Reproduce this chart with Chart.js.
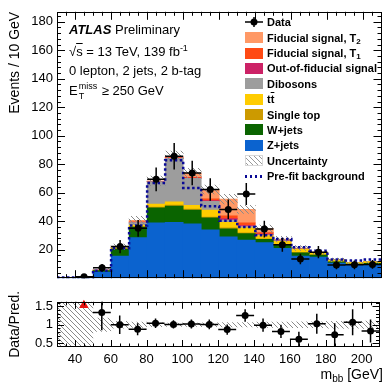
<!DOCTYPE html>
<html lang="en">
<head>
<meta charset="utf-8">
<title>m_bb, 0 lepton</title>
<script src="https://cdn.jsdelivr.net/npm/chart.js@4.4.1/dist/chart.umd.min.js"></script>
<style>
    html, body { margin: 0; padding: 0; background: #fff; }
    #lienzo {
        position: relative; width: 385px; height: 382px; overflow: hidden;
        font-family: "Liberation Sans", Arial, sans-serif; color: #000;
    }
    #graficoPrincipal { position: absolute; left: 0; top: 0; }
    #graficoRatio { position: absolute; left: 0; top: 290px; }
    .texto { position: absolute; white-space: nowrap; font-size: 13px; line-height: 14px; }
    .sobre { text-decoration: overline; }
    .fila {
        position: absolute; left: 245px; height: 12px; white-space: nowrap;
        font-size: 11px; font-weight: bold; line-height: 12px;
    }
    .muestra { position: absolute; left: 0; top: 0.5px; width: 18px; height: 11px; }
    .etiqueta { position: absolute; left: 22px; top: 0; }
    .etiqueta sub { font-size: 8px; vertical-align: -2px; line-height: 0; }
</style>
</head>
<body>
<div id="lienzo">
    <canvas id="graficoPrincipal" width="385" height="290"></canvas>
    <canvas id="graficoRatio" width="385" height="92"></canvas>

    <div class="texto" style="left:69px; top:23px;"><b><i>ATLAS</i></b> Preliminary</div>
    <div class="texto" style="left:69px; top:45px;">√<span class="sobre">s</span> = 13 TeV, 139 fb<sup style="font-size:9px; vertical-align:5px; line-height:0;">-1</sup></div>
    <div class="texto" style="left:69px; top:64px;">0 lepton, 2 jets, 2 b-tag</div>
    <div class="texto" style="left:69px; top:84px;">E<span style="display:inline-block; position:relative; width:24px; height:14px; vertical-align:top;"><span style="position:absolute; left:1px; top:-2px; font-size:9px; line-height:9px;">miss</span><span style="position:absolute; left:1px; top:8px; font-size:9px; line-height:9px;">T</span></span>≥ 250 GeV</div>

    <div id="leyenda"></div>

    <div class="texto" style="right:2px; top:366px; font-size:14px; line-height:16px;">m<sub style="font-size:10px; vertical-align:-3px; line-height:0;">bb</sub> [GeV]</div>
</div>

<script>
// ==============================================
// Distribución de m_bb: pila de fondos + señal, ratio abajo
// ==============================================

// Centros de los bins (GeV), ancho 10 GeV
const centrosBin = [35, 45, 55, 65, 75, 85, 95, 105, 115, 125, 135, 145, 155, 165, 175, 185, 195, 205];
const anchoBin = 10;

// Componentes de la pila (eventos / 10 GeV), de abajo hacia arriba
const zJets     = [0.4, 0.5, 4.3, 15.5, 28.5, 38.8, 39.2, 38.1, 34.0, 29.0, 26.8, 25.0, 21.0, 15.5, 14.8, 10.6, 9.2, 9.6];
const wJets     = [0.05, 0.1, 1.0, 5.0, 7.3, 10.6, 11.5, 9.8, 8.3, 5.7, 4.5, 2.3, 2.4, 2.3, 1.4, 0.9, 0.7, 0.9];
const singleTop = [0, 0, 0.1, 0.3, 0.3, 0.5, 0.6, 0.6, 0.6, 0.6, 0.5, 0.4, 0.3, 0.3, 0.2, 0.2, 0.1, 0.2];
const ttbar     = [0, 0, 0.2, 0.6, 1.2, 2.2, 2.3, 2.6, 5.0, 4.0, 3.5, 2.3, 2.2, 2.3, 1.6, 1.2, 1.0, 1.0];
const dibosones = [0, 0, 0.1, 0.4, 1.8, 15.5, 30.5, 19.0, 6.0, 1.5, 1.0, 0.5, 0.4, 0.3, 0.2, 0.1, 0.1, 0.1];
const fueraFid  = [0, 0, 0, 0, 0.2, 0.1, 0.2, 0.2, 0.6, 1.0, 0.7, 0.5, 0.2, 0.1, 0, 0, 0, 0];
const fidT1     = [0, 0, 0, 0, 0.3, 0.2, 0.3, 0.5, 1.2, 2.0, 1.8, 1.0, 0.3, 0.1, 0, 0, 0, 0];
const fidT2     = [0, 0, 0, 0.2, 1.0, 0.4, 0.8, 3.0, 6.5, 11.7, 9.5, 2.8, 0.6, 0.3, 0.1, 0, 0, 0];

// Fondo antes del ajuste (línea punteada)
const preAjuste = [0.5, 0.5, 5.3, 21.0, 37.0, 66.8, 82.8, 63.4, 50.5, 40.3, 36.0, 30.2, 27.5, 21.8, 19.3, 13.2, 12.5, 13.2];

// Incertidumbre relativa de la predicción
const incertRel = [0.9, 0.9, 0.18, 0.09, 0.07, 0.05, 0.045, 0.045, 0.05, 0.06, 0.06, 0.07, 0.07, 0.08, 0.08, 0.09, 0.09, 0.1];

// Datos y su error
const datos    = [null, 1.0, 7.3, 22.2, 35.0, 69.4, 85.6, 73.8, 62.2, 48.3, 59.1, 34.5, 23.4, 13.5, 18.3, 9.3, 9.4, 9.7];
const errDatos = [0, 1.0, 2.7, 4.7, 5.9, 8.3, 9.3, 8.6, 7.9, 7.0, 7.7, 5.9, 4.8, 3.7, 4.3, 3.0, 3.1, 3.1];

// Panel inferior: Data/Pred.
const ratio      = [null, null, 1.33, 1.0, 0.88, 1.04, 1.01, 1.02, 1.01, 0.87, 1.25, 0.99, 0.82, 0.61, 1.03, 0.73, 1.07, 0.83];
const errRatio   = [0, 0, 0.48, 0.25, 0.16, 0.13, 0.11, 0.12, 0.13, 0.14, 0.17, 0.18, 0.18, 0.2, 0.27, 0.31, 0.35, 0.31];
const ratioFuera = [null, 1.53, null, null, null, null, null, null, null, null, null, null, null, null, null, null, null, null];

// Marcas de los ejes
const ticksX = [40, 60, 80, 100, 120, 140, 160, 180, 200];
const ticksY = [20, 40, 60, 80, 100, 120, 140, 160, 180];
const ticksRatio = [0.5, 1, 1.5];

// Pila: orden de apilado y estilo
const pila = [
    { etiqueta: 'Z+jets', html: 'Z+jets', valores: zJets, color: '#0b63cf' },
    { etiqueta: 'W+jets', html: 'W+jets', valores: wJets, color: '#0a6400' },
    { etiqueta: 'Single top', html: 'Single top', valores: singleTop, color: '#cc9a00' },
    { etiqueta: 'ttbar', html: 't<span class="sobre">t</span>', valores: ttbar, color: '#ffcc00' },
    { etiqueta: 'Dibosons', html: 'Dibosons', valores: dibosones, color: '#9d9d9d' },
    { etiqueta: 'Out-of-fiducial signal', html: 'Out-of-fiducial signal', valores: fueraFid, color: '#cc2266' },
    { etiqueta: 'Fiducial signal, T1', html: 'Fiducial signal, T<sub>1</sub>', valores: fidT1, color: '#ff4a14' },
    { etiqueta: 'Fiducial signal, T2', html: 'Fiducial signal, T<sub>2</sub>', valores: fidT2, color: '#ff9966' }
];

const FUENTE = '"Liberation Sans", Arial, sans-serif';

/**
 * Genera las posiciones de marcas (mayores y menores) dentro de un rango
 */
function posicionesMarcas(min, max, paso, cadaMayor) {
    let lista = [];
    for (let i = Math.ceil(min / paso - 1e-9); i * paso <= max + 1e-9; i++) {
        let v = i * paso;
        if (v <= min + 1e-9 || v >= max - 1e-9) continue;
        lista.push({ v: v, mayor: i % cadaMayor === 0 });
    }
    return lista;
}

// Marco estilo ROOT: caja negra con marcas hacia dentro en los cuatro lados
const marcoRoot = {
    id: 'marcoRoot',
    afterDatasetsDraw(chart, args, opts) {
        const { ctx, chartArea: a } = chart;
        const sx = chart.scales.x, sy = chart.scales.y;
        ctx.save();
        ctx.strokeStyle = '#000';
        ctx.lineWidth = 1;
        ctx.beginPath();
        posicionesMarcas(sx.min, sx.max, opts.x.paso, opts.x.cadaMayor).forEach(m => {
            let px = Math.round(sx.getPixelForValue(m.v)) + 0.5;
            let largo = m.mayor ? opts.x.mayor : opts.x.menor;
            ctx.moveTo(px, a.bottom); ctx.lineTo(px, a.bottom - largo);
            ctx.moveTo(px, a.top); ctx.lineTo(px, a.top + largo);
        });
        posicionesMarcas(sy.min, sy.max, opts.y.paso, opts.y.cadaMayor).forEach(m => {
            let py = Math.round(sy.getPixelForValue(m.v)) + 0.5;
            let largo = m.mayor ? opts.y.mayor : opts.y.menor;
            ctx.moveTo(a.left, py); ctx.lineTo(a.left + largo, py);
            ctx.moveTo(a.right, py); ctx.lineTo(a.right - largo, py);
        });
        ctx.stroke();
        ctx.strokeRect(Math.round(a.left) + 0.5, Math.round(a.top) + 0.5,
            Math.round(a.right - a.left) - 1, Math.round(a.bottom - a.top) - 1);
        ctx.restore();
    }
};

const Grafico = {
    rayado: null,
    chartPrincipal: null,
    chartRatio: null,

    /**
     * Inicializa todo
     */
    init: function() {
        this.rayado = this.crearRayado('#8a8a8a');
        this.crearLeyenda();
        this.crearPrincipal();
        this.crearRatio();
    },

    /**
     * Patrón de rayado diagonal para la incertidumbre
     */
    crearRayado: function(color) {
        const c = document.createElement('canvas');
        c.width = 5; c.height = 5;
        const g = c.getContext('2d');
        g.strokeStyle = color;
        g.lineWidth = 1;
        g.beginPath();
        g.moveTo(-1, -1); g.lineTo(6, 6);
        g.moveTo(-1, 4); g.lineTo(1, 6);
        g.moveTo(4, -1); g.lineTo(6, 1);
        g.stroke();
        return g.createPattern(c, 'repeat');
    },

    /**
     * Leyenda en HTML, arriba a la derecha
     */
    crearLeyenda: function() {
        const cont = document.getElementById('leyenda');
        let filas = [];
        filas.push({ texto: 'Data', muestra: '<svg width="18" height="12" style="position:absolute;left:0;top:0"><line x1="0" y1="6" x2="18" y2="6" stroke="#000" stroke-width="1.5"/><line x1="9" y1="1" x2="9" y2="11" stroke="#000" stroke-width="1.5"/><circle cx="9" cy="6" r="3.5" fill="#000"/></svg>' });
        pila.slice().reverse().forEach(p => {
            filas.push({ texto: p.html, muestra: `<div class="muestra" style="background:${p.color}"></div>` });
        });
        filas.push({ texto: 'Uncertainty', muestra: '<div class="muestra" style="background:repeating-linear-gradient(45deg, #fff 0 2.5px, #9a9a9a 2.5px 3.5px); outline:1px solid #d8d8d8; outline-offset:-1px"></div>' });
        filas.push({ texto: 'Pre-fit background', muestra: '<div style="position:absolute;left:0;top:5px;width:18px;height:2.5px;background:repeating-linear-gradient(90deg, #0a0a96 0 2.5px, transparent 2.5px 5px)"></div>' });

        filas.forEach((f, i) => {
            let centro = 22.3 + 15.37 * i;
            let div = document.createElement('div');
            div.className = 'fila';
            div.style.top = (centro - 6) + 'px';
            div.innerHTML = f.muestra + `<span class="etiqueta">${f.texto}</span>`;
            cont.appendChild(div);
        });
    },

    /**
     * Gráfico principal: pila, incertidumbre, pre-ajuste y datos
     */
    crearPrincipal: function() {
        const total = centrosBin.map((c, i) => pila.reduce((s, p) => s + p.valores[i], 0));

        let datasets = [];

        // Puntos de datos
        datasets.push({
            type: 'scatter', stack: 'puntos', order: 0,
            data: centrosBin.map((c, i) => ({ x: c, y: datos[i] })),
            pointRadius: 3.5, pointBackgroundColor: '#000', pointBorderWidth: 0, pointHoverRadius: 3.5
        });

        // Barras de error: vertical y horizontal (ancho del bin)
        let errV = [], errH = [];
        centrosBin.forEach((c, i) => {
            if (datos[i] === null) return;
            errV.push({ x: c, y: datos[i] - errDatos[i] }, { x: c, y: datos[i] + errDatos[i] }, { x: c, y: null });
            errH.push({ x: c - anchoBin / 2, y: datos[i] }, { x: c + anchoBin / 2, y: datos[i] }, { x: c + anchoBin / 2, y: null });
        });
        datasets.push({ type: 'line', stack: 'errV', order: 1, data: errV, borderColor: '#000', borderWidth: 1.5, pointRadius: 0, spanGaps: false });
        datasets.push({ type: 'line', stack: 'errH', order: 1, data: errH, borderColor: '#000', borderWidth: 1.5, pointRadius: 0, spanGaps: false });

        // Fondo pre-ajuste en escalones (cada punto en el borde izquierdo del bin)
        let escalones = centrosBin.map((c, i) => ({ x: c - anchoBin / 2, y: preAjuste[i] }));
        escalones.push({ x: centrosBin[centrosBin.length - 1] + anchoBin / 2, y: preAjuste[preAjuste.length - 1] });
        datasets.push({
            type: 'line', stack: 'previo', order: 2, data: escalones, stepped: 'before',
            borderColor: '#0a0a96', borderWidth: 2.5, borderDash: [2.5, 2.5], pointRadius: 0
        });

        // Banda de incertidumbre rayada
        datasets.push({
            type: 'bar', stack: 'incert', order: 3, grouped: false,
            data: centrosBin.map((c, i) => ({ x: c, y: [total[i] * (1 - incertRel[i]), total[i] * (1 + incertRel[i])] })),
            backgroundColor: this.rayado, borderWidth: 0, barPercentage: 1, categoryPercentage: 1
        });

        // Pila de fondos y señal
        pila.forEach(p => {
            datasets.push({
                type: 'bar', label: p.etiqueta, stack: 'fondo', order: 4, grouped: false,
                data: centrosBin.map((c, i) => ({ x: c, y: p.valores[i] })),
                backgroundColor: p.color, borderWidth: 0, barPercentage: 1, categoryPercentage: 1
            });
        });

        let ctx = document.getElementById('graficoPrincipal').getContext('2d');
        this.chartPrincipal = new Chart(ctx, {
            type: 'bar',
            data: { datasets: datasets },
            options: {
                responsive: false,
                animation: false,
                events: [],
                layout: { padding: { top: 10, bottom: 5, left: 0, right: 1 } },
                plugins: {
                    legend: { display: false },
                    tooltip: { enabled: false },
                    marcoRoot: {
                        x: { paso: 5, cadaMayor: 4, mayor: 8, menor: 4 },
                        y: { paso: 4, cadaMayor: 5, mayor: 8, menor: 4 }
                    }
                },
                scales: {
                    x: {
                        type: 'linear', min: 30, max: 210, offset: false, display: false,
                        afterBuildTicks: (s) => { s.ticks = ticksX.map(v => ({ value: v })); }
                    },
                    y: {
                        type: 'linear', min: 0, max: 187, stacked: true,
                        grid: { display: false, drawTicks: false },
                        border: { display: false },
                        ticks: { color: '#000', font: { family: FUENTE, size: 13 }, padding: 4, autoSkip: false },
                        afterBuildTicks: (s) => { s.ticks = ticksY.map(v => ({ value: v })); },
                        afterFit: (s) => { s.width = 57; },
                        title: {
                            display: true, text: 'Events / 10 GeV', align: 'end', color: '#000',
                            font: { family: FUENTE, size: 14 }, padding: { top: 6.5, bottom: 0 }
                        }
                    }
                }
            },
            plugins: [marcoRoot]
        });
    },

    /**
     * Panel de ratio Data/Pred.
     */
    crearRatio: function() {
        let datasets = [];

        datasets.push({
            type: 'scatter', order: 0,
            data: centrosBin.map((c, i) => ({ x: c, y: ratio[i] })),
            pointRadius: 3.5, pointBackgroundColor: '#000', pointBorderWidth: 0, pointHoverRadius: 3.5
        });

        // Punto fuera de rango: triángulo rojo (sin recortar contra el marco)
        datasets.push({
            type: 'scatter', order: 0, clip: false,
            data: centrosBin.map((c, i) => ({ x: c, y: ratioFuera[i] })),
            pointStyle: 'triangle', pointRadius: 5.5, pointBackgroundColor: '#e8110f', pointBorderWidth: 0, pointHoverRadius: 5.5
        });

        let errV = [], errH = [];
        centrosBin.forEach((c, i) => {
            if (ratio[i] === null) return;
            errV.push({ x: c, y: ratio[i] - errRatio[i] }, { x: c, y: ratio[i] + errRatio[i] }, { x: c, y: null });
            errH.push({ x: c - anchoBin / 2, y: ratio[i] }, { x: c + anchoBin / 2, y: ratio[i] }, { x: c + anchoBin / 2, y: null });
        });
        datasets.push({ type: 'line', order: 1, data: errV, borderColor: '#000', borderWidth: 1.5, pointRadius: 0, spanGaps: false });
        datasets.push({ type: 'line', order: 1, data: errH, borderColor: '#000', borderWidth: 1.5, pointRadius: 0, spanGaps: false });

        datasets.push({
            type: 'bar', order: 3, grouped: false,
            data: centrosBin.map((c, i) => ({ x: c, y: [1 - incertRel[i], 1 + incertRel[i]] })),
            backgroundColor: this.rayado, borderWidth: 0, barPercentage: 1, categoryPercentage: 1
        });

        let ctx = document.getElementById('graficoRatio').getContext('2d');
        this.chartRatio = new Chart(ctx, {
            type: 'bar',
            data: { datasets: datasets },
            options: {
                responsive: false,
                animation: false,
                events: [],
                layout: { padding: { top: 3, bottom: 0, left: 0, right: 1 } },
                plugins: {
                    legend: { display: false },
                    tooltip: { enabled: false },
                    marcoRoot: {
                        x: { paso: 5, cadaMayor: 4, mayor: 7, menor: 3.5 },
                        y: { paso: 0.1, cadaMayor: 5, mayor: 7, menor: 3.5 }
                    }
                },
                scales: {
                    x: {
                        type: 'linear', min: 30, max: 210, offset: false,
                        grid: { display: false, drawTicks: false },
                        border: { display: false },
                        ticks: { color: '#000', font: { family: FUENTE, size: 13 }, padding: 5, autoSkip: false, maxRotation: 0 },
                        afterBuildTicks: (s) => { s.ticks = ticksX.map(v => ({ value: v })); },
                        afterFit: (s) => { s.height = 35; }
                    },
                    y: {
                        type: 'linear', min: 0.4, max: 1.62,
                        grid: { display: false, drawTicks: false },
                        border: { display: false },
                        ticks: {
                            color: '#000', font: { family: FUENTE, size: 13 }, padding: 4, autoSkip: false,
                            callback: (v) => String(v)
                        },
                        afterBuildTicks: (s) => { s.ticks = ticksRatio.map(v => ({ value: v })); },
                        afterFit: (s) => { s.width = 57; },
                        title: {
                            display: true, text: 'Data/Pred.', align: 'center', color: '#000',
                            font: { family: FUENTE, size: 14 }, padding: { top: 6.5, bottom: 0 }
                        }
                    }
                }
            },
            plugins: [marcoRoot]
        });
    }
};

// Inicializar cuando el DOM esté listo
document.addEventListener('DOMContentLoaded', function() {
    Grafico.init();
});
</script>
</body>
</html>
